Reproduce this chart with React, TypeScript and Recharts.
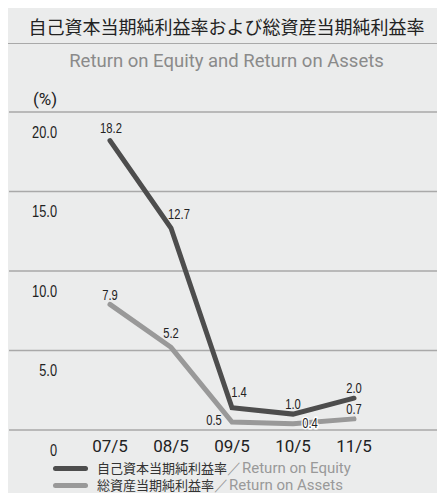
import { CartesianGrid, LabelList, Line, LineChart, XAxis, YAxis } from "recharts";

const years = ["07/5", "08/5", "09/5", "10/5", "11/5"];
const roe = [18.2, 12.7, 1.4, 1.0, 2.0];
const roa = [7.9, 5.2, 0.5, 0.4, 0.7];
const yTicks = [0, 5, 10, 15, 20];

// label nudges relative to each point (dx, dy of text centre)
const roeShift: [number, number][] = [[1, -12], [8, -13], [7, -15], [0, -10], [0, -10]];
const roaShift: [number, number][] = [[0, -9], [0, -14], [-18, -1], [17, 0], [0, -9]];

const data = years.map((year, i) => ({ year, roe: roe[i], roa: roa[i] }));

const DARK = "#4d4d4d";
const GREY = "#999999";
const BG = "#ebecec";
const RULE = "#a9a9a9";
const SANS = '"Liberation Sans", Arial, sans-serif';
const JP = '"Noto Sans CJK JP", "Noto Sans", sans-serif';
const LATIN = 'Roboto, "Liberation Sans", Arial, sans-serif';

// condensed look: squeeze regular sans horizontally
function Narrow({ x, y, size, anchor, children, halo }: any) {
  return (
    <text
      transform={`translate(${x},${y}) scale(0.8,1)`}
      textAnchor={anchor}
      dominantBaseline="central"
      fontFamily={SANS}
      fontSize={size}
      fill="#222"
      stroke={halo ? "#fff" : "none"}
      strokeWidth={halo ? 3 : 0}
      paintOrder="stroke"
    >
      {children}
    </text>
  );
}

function makeLabel(shift: [number, number][], halo: number[]) {
  return (props: any) => {
    const { x, y, value, index } = props;
    const [dx, dy] = shift[index] ?? [0, -10];
    return (
      <Narrow x={x + dx} y={y + dy} size={14} anchor="middle" halo={halo.includes(index)}>
        {Number(value).toFixed(1)}
      </Narrow>
    );
  };
}

const YTick = (props: any) => {
  const { y, payload } = props;
  const v = payload.value as number;
  return (
    <Narrow x={49} y={y + 20} size={16} anchor="end">
      {v === 0 ? "0" : v.toFixed(1)}
    </Narrow>
  );
};

const XTick = (props: any) => {
  const { x, y, payload } = props;
  return (
    <text x={x} y={y + 16} textAnchor="middle" dominantBaseline="central" fontFamily={LATIN} fontSize={17} fill="#222">
      {payload.value}
    </text>
  );
};

function LegendRow({ color, jp, en, top }: { color: string; jp: string; en: string; top: number }) {
  return (
    <div style={{ position: "absolute", left: 45, top, height: 16, lineHeight: "16px", display: "flex", alignItems: "center" }}>
      <div style={{ width: 35, height: 5, borderRadius: 3, background: color, marginRight: 9 }} />
      <span style={{ fontFamily: JP, fontSize: 13, color: "#333", whiteSpace: "nowrap" }}>{jp}</span>
      <span style={{ fontFamily: LATIN, fontSize: 15, color: GREY, whiteSpace: "nowrap" }}>{en}</span>
    </div>
  );
}

export default function App() {
  return (
    <div style={{ position: "relative", width: 437, height: 486, marginTop: -1, background: BG, overflow: "hidden" }}>
      <div
        style={{
          position: "absolute",
          left: 0,
          top: 0,
          width: 437,
          height: 36,
          borderBottom: `1.5px solid ${RULE}`,
          textAlign: "center",
          lineHeight: "44px",
          fontFamily: JP,
          fontSize: 18,
          color: "#222",
          whiteSpace: "nowrap",
        }}
      >
        <span style={{ position: "relative", top: -3 }}>自己資本当期純利益率および総資産当期純利益率</span>
      </div>
      <div
        style={{
          position: "absolute",
          left: 0,
          top: 43,
          width: 437,
          textAlign: "center",
          fontFamily: LATIN,
          fontSize: 18.5,
          color: "#8a8a8a",
          whiteSpace: "nowrap",
        }}
      >
        Return on Equity and Return on Assets
      </div>
      <div style={{ position: "absolute", left: 25, top: 82, fontFamily: LATIN, fontSize: 17, color: "#222" }}>(%)</div>
      <div style={{ position: "absolute", left: 0, top: 0 }}>
        <LineChart width={437} height={486} data={data} margin={{ top: 105, right: 0, bottom: 0, left: 0 }}>
          <CartesianGrid vertical={false} stroke={RULE} strokeWidth={1.5} />
          <XAxis
            dataKey="year"
            padding={{ left: 101, right: 91 }}
            axisLine={false}
            tickLine={false}
            tickSize={0}
            tickMargin={0}
            height={63}
            tick={<XTick />}
            interval={0}
          />
          <YAxis
            domain={[0, 20]}
            ticks={yTicks}
            width={1}
            axisLine={false}
            tickLine={false}
            tick={<YTick />}
            interval={0}
          />
          <Line
            type="linear"
            dataKey="roa"
            stroke={GREY}
            strokeWidth={5}
            strokeLinecap="round"
            dot={false}
            isAnimationActive={false}
          >
            <LabelList dataKey="roa" content={makeLabel(roaShift, [3])} />
          </Line>
          <Line
            type="linear"
            dataKey="roe"
            stroke={DARK}
            strokeWidth={5}
            strokeLinecap="round"
            dot={false}
            isAnimationActive={false}
          >
            <LabelList dataKey="roe" content={makeLabel(roeShift, [])} />
          </Line>
        </LineChart>
      </div>
      <LegendRow color={DARK} jp="自己資本当期純利益率" en="／Return on Equity" top={453} />
      <LegendRow color={GREY} jp="総資産当期純利益率" en=" ／Return on Assets" top={470} />
    </div>
  );
}
